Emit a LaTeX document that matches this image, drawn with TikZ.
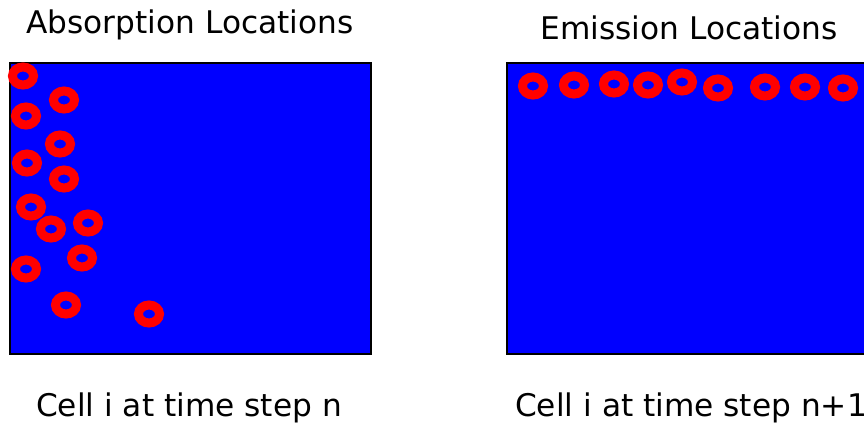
\documentclass[tikz,border=0pt]{standalone}
\usepackage{fontspec}
\setmainfont{DejaVu Sans}
\usetikzlibrary{positioning}

\tikzset{
  cellbox/.style={fill=blue, draw=black, line width=2pt},
  ring/.style={draw=red, line width=9pt},
  caption/.style={font=\fontsize{31.2}{36}\selectfont, inner sep=0pt, anchor=base}
}

\begin{document}
\begin{tikzpicture}[x=1pt, y=-1pt]
  \useasboundingbox (0,0) rectangle (864,424);

  % the two cells
  \draw[cellbox] (10,63) rectangle (371,354);
  \draw[cellbox] (507,63) rectangle (900,354);

  % absorption locations
  \foreach \px/\py in {23/76, 64/100, 26/116, 60/144, 27/163, 64/179, 31/207,
                       51/229, 88/223, 26/269, 82/258, 66/305, 149/314}
    \draw[ring] (\px,\py) ellipse (10.5 and 9);

  % emission locations
  \foreach \px/\py in {533/86, 574/85, 614/84, 648/85, 682/82, 718/88,
                       765/87, 805/87, 843/88}
    \draw[ring] (\px,\py) ellipse (10.5 and 9);

  % titles
  \node[caption] (abstitle) at (190,33) {Absorption Locations};
  \node[caption] (emititle) at (689,39) {Emission Locations};

  % time steps
  \node[caption] (stepn) at (189,416) {Cell i at time step n};
  \node[caption, anchor=base west] (stepnext) at (515,416) {Cell i at time step n+1};
\end{tikzpicture}
\end{document}
